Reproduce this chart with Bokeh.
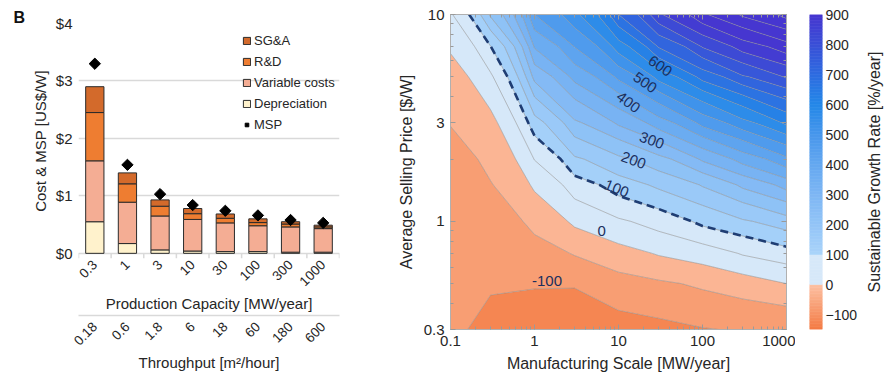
import numpy as np
from math import pi
from bokeh.plotting import figure
from bokeh.layouts import row, column
from bokeh.models import (FactorRange, CategoricalAxis, Legend, LegendItem, FixedTicker,
                          CustomJSTickFormatter, NumeralTickFormatter, LogAxis, Range1d,
                          ColumnDataSource)
from bokeh.core.properties import value
from bokeh.embed import file_html
from bokeh.resources import INLINE

# ---------------- data: panel B left (cost breakdown) ----------------
capacity = ["0.3", "1", "3", "10", "30", "100", "300", "1000"]
throughput = ["0.18", "0.6", "1.8", "6", "18", "60", "180", "600"]
depreciation = [0.55, 0.17, 0.06, 0.04, 0.03, 0.03, 0.02, 0.02]
variable_costs = [1.06, 0.72, 0.59, 0.55, 0.50, 0.45, 0.44, 0.41]
rnd = [0.84, 0.32, 0.17, 0.10, 0.08, 0.055, 0.05, 0.03]
sga = [0.45, 0.19, 0.11, 0.09, 0.075, 0.065, 0.04, 0.03]
msp = [3.30, 1.54, 1.03, 0.84, 0.74, 0.66, 0.58, 0.53]

# ---------------- data: panel B right (growth-rate map) ----------------
scale = [0.1, 0.3, 1, 3, 10, 30, 100, 300, 1000]          # MW/year
price = [0.3, 0.5, 0.7, 1, 1.5, 2, 3, 5, 7, 10]          # $/W
g_s0_1 = [-97, -89, -86, -81, -73, -65, -48, -20, 7, 45]
g_s0_3 = [-107, -97, -88, -74, -52, -38, -13, 43, 99, 210]
g_s1 = [-124, -96, -68, -35, 9.5, 52, 133, 268, 356, 450]
g_s3 = [-143, -94, -46, 12, 79, 144, 244, 369, 452, 540]
g_s10 = [-118, -67.5, -16, 44, 129, 191, 311, 464, 579, 700]
g_s30 = [-111, -56, 5, 74, 162, 237, 381, 572, 705, 845]
g_s100 = [-102, -40, 27, 115, 205, 310, 470, 672, 805, 945]
g_s300 = [-95, -21, 55, 145, 263, 374, 537, 745, 877, 1010]
g_s1000 = [-90, 0, 82, 181, 324, 441, 614, 808, 932, 1070]
contour_levels = list(range(-150, 1101, 50))

# inline contour labels
lbl_text = ["600", "500", "400", "300", "200", "100", "0", "-100"]
lbl_scale = [31.3, 20.7, 13.1, 24.9, 15.1, 9.5, 6.3, 1.41]
lbl_price = [5.64, 4.69, 3.76, 2.46, 1.97, 1.44, 0.90, 0.512]
lbl_angle_deg = [-35, -35, -37, -20, -20, -22, 0, 0]

cbar_ticks = list(range(-100, 901, 100))

FONT = "Liberation Sans"
TXT = "#262626"
H = 376
AXIS_GREY = "#D9D9D9"


def _hex(c):
    return "#%02x%02x%02x" % tuple(int(round(x)) for x in c)


NEG_LO = (244, 122, 66)
NEG_HI = (252, 193, 164)
LIGHT = (214, 232, 249)
POS = [(100, (170, 212, 250)), (200, (148, 197, 247)), (300, (126, 183, 244)),
       (400, (101, 168, 240)), (500, (72, 151, 236)), (600, (36, 136, 232)),
       (700, (46, 108, 224)), (800, (58, 80, 215)), (900, (70, 54, 208))]


def cmap(v):
    v = min(max(v, -150), 900)
    if v < 0:
        t = (v + 150) / 150.0
        return _hex([a + (b - a) * t for a, b in zip(NEG_LO, NEG_HI)])
    if v < 100:
        return _hex(LIGHT)
    for (v0, c0), (v1, c1) in zip(POS[:-1], POS[1:]):
        if v <= v1:
            t = (v - v0) / (v1 - v0)
            return _hex([a + (b - a) * t for a, b in zip(c0, c1)])
    return _hex(POS[-1][1])


# ======================= left: stacked bars =======================
src = ColumnDataSource(dict(cap=capacity, dep=depreciation, var=variable_costs,
                            rnd=rnd, sga=sga, msp=msp))

TICK_DEPTH = 0.09   # frame extends a few px below $0 to host the category tick marks
p1 = figure(x_range=FactorRange(*capacity), y_range=Range1d(-TICK_DEPTH, 4),
            width=350, height=H, output_backend="svg", toolbar_location=None,
            min_border_left=78, min_border_right=11, min_border_top=23, min_border_bottom=118)
p1.extra_x_ranges = {"tp": FactorRange(*throughput)}

p1.title.text = "B"
p1.title.align = "left"
p1.title.offset = -65
try:
    p1.title.standoff = -5
except Exception:
    p1.title.standoff = 0
p1.title.text_font = FONT
p1.title.text_font_size = "16px"
p1.title.text_font_style = "bold"
p1.title.text_color = "#111111"

# category boundary tick marks under the $0 line
bounds = [(c, -0.5) for c in capacity] + [(capacity[-1], 0.5)]
p1.segment(x0=bounds, y0=[0] * len(bounds), x1=bounds, y1=[-TICK_DEPTH] * len(bounds),
           line_color=AXIS_GREY, line_width=1.5)

bar_cols = ["#FFF2CC", "#F4AD94", "#EE7D31", "#D36A2B"]
rs = p1.vbar_stack(["dep", "var", "rnd", "sga"], x="cap", width=0.56, source=src,
                   fill_color=bar_cols, line_color="#2b2b2b", line_width=1)
r_msp = p1.scatter(x="cap", y="msp", source=src, marker="square", angle=pi / 4,
                   size=8, color="black")

legend = Legend(items=[LegendItem(label="SG&A", renderers=[rs[3]]),
                       LegendItem(label="R&D", renderers=[rs[2]]),
                       LegendItem(label="Variable costs", renderers=[rs[1]]),
                       LegendItem(label="Depreciation", renderers=[rs[0]]),
                       LegendItem(label="MSP", renderers=[r_msp])],
                location=(164, 124), padding=0, margin=0, spacing=1,
                glyph_width=9, glyph_height=9, label_standoff=3, label_height=20,
                label_text_font=FONT, label_text_font_size="13px", label_text_color=TXT,
                border_line_color=None, background_fill_alpha=0)
p1.add_layout(legend)

p1.outline_line_color = None
p1.xgrid.grid_line_color = None
p1.ygrid.grid_line_color = AXIS_GREY
p1.ygrid.grid_line_width = 1.5
yax1 = p1.yaxis[0]
yax1.ticker = FixedTicker(ticks=[0, 1, 2, 3, 4])
yax1.formatter = NumeralTickFormatter(format="$0")
yax1.axis_line_color = None
yax1.major_tick_line_color = None
yax1.minor_tick_line_color = None
yax1.major_tick_out = 0
yax1.major_tick_in = 0
yax1.major_label_standoff = 6
yax1.axis_label = "Cost & MSP [US$/W]"
yax1.axis_label_standoff = 4

ax1 = p1.xaxis[0]
ax1.axis_label = "Production Capacity [MW/year]"
ax1.major_label_orientation = pi / 4
ax1.major_tick_out = 1
ax1.major_tick_in = 0
ax1.major_label_standoff = 3
ax1.axis_label_standoff = 2
ax1.axis_line_color = None

ax2 = CategoricalAxis(x_range_name="tp", axis_label="Throughput [m\u00b2/hour]")
ax2.major_label_orientation = pi / 4
ax2.major_label_standoff = 3
ax2.axis_label_standoff = 2
ax2.axis_line_color = AXIS_GREY
ax2.axis_line_width = 1.5
p1.add_layout(ax2, "below")

for ax in (ax1, ax2):
    ax.major_tick_line_color = None
    ax.major_label_text_font_size = "13.5px"
for ax in (ax1, ax2, yax1):
    ax.major_label_text_font = FONT
    ax.major_label_text_color = TXT
    ax.axis_label_text_font = FONT
    ax.axis_label_text_font_size = "15px"
    ax.axis_label_text_font_style = "normal"
    ax.axis_label_text_color = TXT
yax1.major_label_text_font_size = "15px"

# ======================= right: contour map =======================
X, Y = np.meshgrid(np.array(scale, dtype=float), np.array(price, dtype=float))
Z = np.column_stack([g_s0_1, g_s0_3, g_s1, g_s3, g_s10, g_s30, g_s100, g_s300, g_s1000]).astype(float)

p2 = figure(x_axis_type="log", y_axis_type="log", x_range=Range1d(0.1, 1000),
            y_range=Range1d(0.3, 10), width=445, height=H, output_backend="svg",
            toolbar_location=None, min_border_left=100, min_border_right=9,
            min_border_top=14, min_border_bottom=47)
xax2 = p2.xaxis[0]
yax2 = p2.yaxis[0]

fills = [cmap(lv + 25) for lv in contour_levels[:-1]]
p2.contour(x=X, y=Y, z=Z, levels=contour_levels, fill_color=fills,
           line_color="#8a8a8a", line_width=0.6, line_alpha=0.9)
p2.contour(x=X, y=Y, z=Z, levels=[100], line_color="#1F3D73", line_width=2.6,
           line_dash="8 5")

p2.text(x=lbl_scale, y=lbl_price, text=lbl_text, angle=[a * pi / 180 for a in lbl_angle_deg],
        text_align="center", text_baseline="middle", text_font=value(FONT),
        text_font_size="15px", text_color="#1B2F5E")

xminor = [m * 10.0 ** e for e in range(-1, 3) for m in range(2, 10)]
yminor = [0.4, 0.5, 0.6, 0.7, 0.8, 0.9, 2, 4, 5, 6, 7, 8, 9]
xax2.ticker = FixedTicker(ticks=[0.1, 1, 10, 100, 1000], minor_ticks=xminor)
yax2.ticker = FixedTicker(ticks=[0.3, 1, 3, 10], minor_ticks=yminor)
fmt = CustomJSTickFormatter(code="return tick.toString();")
xax2.formatter = fmt
yax2.formatter = fmt
xax2.axis_label = "Manufacturing Scale [MW/year]"
yax2.axis_label = "Average Selling Price [$/W]"

blank = CustomJSTickFormatter(code="return '';")
top_ax = LogAxis(ticker=FixedTicker(ticks=[0.1, 1, 10, 100, 1000], minor_ticks=xminor),
                 formatter=blank)
right_ax = LogAxis(ticker=FixedTicker(ticks=[0.3, 1, 3, 10], minor_ticks=yminor),
                   formatter=blank)
p2.add_layout(top_ax, "above")
p2.add_layout(right_ax, "right")
for ax in (top_ax, right_ax):
    ax.major_label_standoff = 0

for ax in (xax2, yax2, top_ax, right_ax):
    ax.axis_line_color = "#B0B0B0"
    ax.major_tick_in = 5
    ax.major_tick_out = 0
    ax.minor_tick_in = 3
    ax.minor_tick_out = 0
    ax.major_tick_line_color = "#9a9a9a"
    ax.minor_tick_line_color = "#9a9a9a"
for ax in (xax2, yax2):
    ax.major_label_text_font = FONT
    ax.major_label_text_font_size = "15px"
    ax.major_label_text_color = TXT
    ax.major_label_standoff = 6
    ax.axis_label_text_font = FONT
    ax.axis_label_text_font_size = "16px"
    ax.axis_label_text_font_style = "normal"
    ax.axis_label_text_color = TXT
    ax.axis_label_standoff = 6
p2.grid.grid_line_color = None
p2.outline_line_color = "#B0B0B0"

# ======================= colour bar =======================
cb_lo = np.arange(-150, 900, 5, dtype=float)
p3 = figure(x_range=Range1d(0, 1), y_range=Range1d(-150, 900), width=65, height=H,
            output_backend="svg", toolbar_location=None, x_axis_location=None,
            y_axis_location="right", min_border_left=14, min_border_right=35,
            min_border_top=14, min_border_bottom=47)
cb_cols = [cmap(v + 2.5) for v in cb_lo]
p3.quad(left=0, right=1, bottom=cb_lo, top=cb_lo + 5, fill_color=cb_cols,
        line_color=cb_cols, line_width=0.6)
p3.grid.grid_line_color = None
p3.outline_line_color = None
cax = p3.yaxis[0]
cax.ticker = FixedTicker(ticks=cbar_ticks)
cax.axis_line_color = None
cax.major_tick_line_color = None
cax.minor_tick_line_color = None
cax.major_tick_out = 0
cax.major_label_standoff = 3
cax.major_label_text_font = FONT
cax.major_label_text_font_size = "14px"
cax.major_label_text_color = TXT

# colour-bar title: a left-hand axis label of a slim neighbouring figure
p4 = figure(x_range=Range1d(0, 1), y_range=Range1d(0, 1), width=24, height=H,
            output_backend="svg", toolbar_location=None, x_axis_location=None,
            min_border_left=22, min_border_right=1, min_border_top=14, min_border_bottom=47)
p4.outline_line_color = None
p4.grid.grid_line_color = None
tax = p4.yaxis[0]
tax.formatter = blank
tax.axis_line_color = None
tax.major_tick_line_color = None
tax.minor_tick_line_color = None
tax.major_tick_out = 0
tax.major_tick_in = 0
tax.minor_tick_out = 0
tax.major_label_standoff = 0
tax.axis_label = "Sustainable Growth Rate [%/year]"
tax.axis_label_standoff = 0
tax.axis_label_text_font = FONT
tax.axis_label_text_font_size = "16px"
tax.axis_label_text_font_style = "normal"
tax.axis_label_text_color = TXT

layout = row(column(p1), row(p2, p3, p4))
open("out.html", "w").write(file_html(layout, INLINE))
